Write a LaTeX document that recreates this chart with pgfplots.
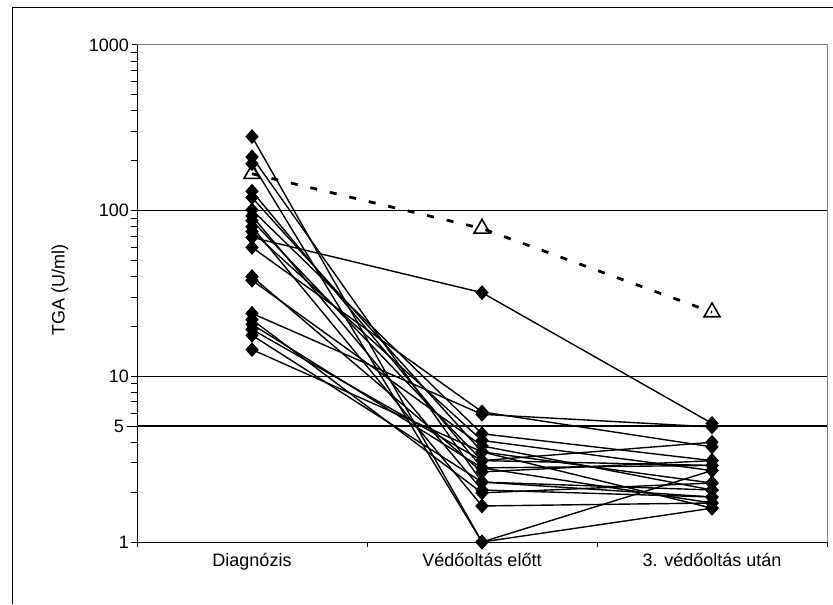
\documentclass[border=0pt]{standalone}
\usepackage{pgfplots}
\pgfplotsset{compat=1.18}
\usepackage{fontspec}
\setmainfont{Liberation Sans}
\tikzset{dpt/.style={black, solid, line width=0.7pt, mark=diamond*, mark size=3.2pt, mark options={solid, fill=black, xscale=1.2}}}
\begin{document}
\begin{tikzpicture}[x=1pt,y=1pt]
\useasboundingbox (0,0) rectangle (416.5,302);
\draw[line width=0.5pt] (6,0) -- (6,298) -- (416.5,298);
\begin{axis}[
  at={(68.5pt,31pt)}, anchor=south west,
  scale only axis, width=345pt, height=248.5pt,
  xmin=0, xmax=3, ymode=log, ymin=1, ymax=1000,
  axis x line*=bottom, axis y line*=left,
  axis line style={black, line width=0.5pt},
  xtick={0,1,2,3}, xticklabels={,,,},
  extra x ticks={0.5,1.5,2.5},
  extra x tick labels={Diagnózis, Védőoltás előtt, 3. védőoltás után},
  extra x tick style={major tick length=0pt},
  ytick={1,10,100,1000}, yticklabels={1,10,100,1000},
  minor ytick={},
  extra y ticks={5}, extra y tick labels={5},
  extra y tick style={grid=major, major grid style={black, line width=1pt}, major tick length=5pt},
  ymajorgrids, major grid style={black, line width=0.5pt},
  tick align=outside, major tick length=2.5pt,
  tick style={black, line width=0.5pt},
  tick label style={font=\fontsize{9pt}{10pt}\selectfont},
  yticklabel style={xshift=2pt},
  xticklabel style={yshift=-2pt},
  clip=false,
]
\addplot[dpt] coordinates {(0.5,280) (1.5,1.0) (2.5,2.7)};
\addplot[dpt] coordinates {(0.5,211) (1.5,2.3) (2.5,2.06)};
\addplot[dpt] coordinates {(0.5,192) (1.5,1.0) (2.5,1.6)};
\addplot[dpt] coordinates {(0.5,131) (1.5,2.8) (2.5,2.9)};
\addplot[dpt] coordinates {(0.5,120) (1.5,3.5) (2.5,2.27)};
\addplot[dpt] coordinates {(0.5,101) (1.5,4.5) (2.5,3.1)};
\addplot[dpt] coordinates {(0.5,93) (1.5,2.06) (2.5,1.87)};
\addplot[dpt] coordinates {(0.5,87) (1.5,3.1) (2.5,4.0)};
\addplot[dpt] coordinates {(0.5,80) (1.5,1.65) (2.5,1.72)};
\addplot[dpt] coordinates {(0.5,75) (1.5,4.1) (2.5,2.7)};
\addplot[dpt] coordinates {(0.5,69) (1.5,32) (2.5,5.2)};
\addplot[dpt] coordinates {(0.5,60) (1.5,6.1) (2.5,3.75)};
\addplot[dpt] coordinates {(0.5,40) (1.5,2.65) (2.5,3.1)};
\addplot[dpt] coordinates {(0.5,38) (1.5,3.8) (2.5,2.06)};
\addplot[dpt] coordinates {(0.5,24) (1.5,5.9) (2.5,4.95)};
\addplot[dpt] coordinates {(0.5,22) (1.5,1.98) (2.5,2.27)};
\addplot[dpt] coordinates {(0.5,20.6) (1.5,2.8) (2.5,1.72)};
\addplot[dpt] coordinates {(0.5,19.2) (1.5,3.1) (2.5,2.9)};
\addplot[dpt] coordinates {(0.5,17.7) (1.5,2.3) (2.5,1.87)};
\addplot[dpt] coordinates {(0.5,14.5) (1.5,3.5) (2.5,1.6)};
\addplot[black, line width=1.4pt, dash pattern=on 3.5pt off 6.5pt, mark=triangle, mark size=4.6pt, mark options={solid, fill=white, line width=0.8pt}]
  coordinates {(0.5,167) (1.5,78) (2.5,24.4)};
\draw[gray, line width=0.5pt] (rel axis cs:0,1) -- (rel axis cs:1,1) -- (rel axis cs:1,0);
\end{axis}
\node[rotate=90, font=\fontsize{9pt}{10pt}\selectfont] at (30,157) {TGA (U/ml)};
\end{tikzpicture}
\end{document}
